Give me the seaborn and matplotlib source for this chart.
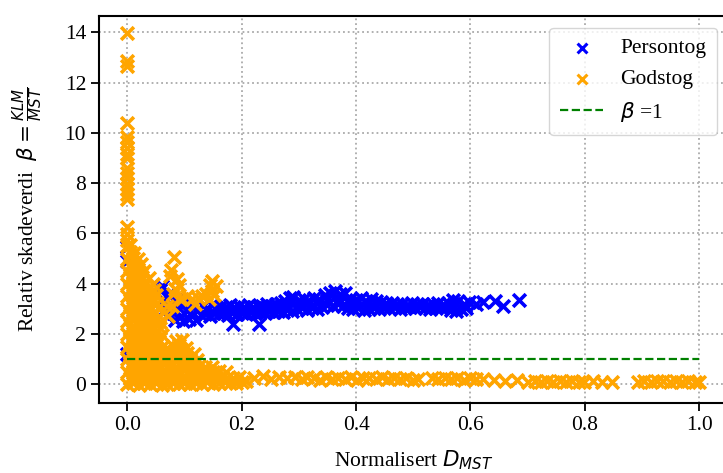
import matplotlib
matplotlib.use("Agg")
import matplotlib.pyplot as plt
import seaborn as sns

# ---------------- data ----------------
# Persontog (blue)
pers_col_x = [0.0, 0.0, 0.0]
pers_col_y = [5.45, 4.9, 1.2]

pers_blob_x = [0.058, 0.062, 0.066, 0.070, 0.072, 0.076, 0.080, 0.083, 0.086, 0.090,
               0.094, 0.098, 0.100, 0.104, 0.108, 0.112, 0.116, 0.120, 0.124, 0.060]
pers_blob_y = [3.75, 3.40, 3.00, 2.70, 3.55, 3.20, 2.85, 2.55, 3.35, 3.05,
               2.70, 2.50, 3.20, 2.90, 2.60, 3.10, 2.80, 2.55, 3.00, 3.90]

pers_lo1_x = [0.128, 0.136, 0.144, 0.152, 0.160, 0.168, 0.176, 0.184, 0.192, 0.200, 0.208,
              0.216, 0.224, 0.232, 0.240, 0.248, 0.256, 0.264, 0.272, 0.280, 0.288]
pers_lo1_y = [2.75, 2.80, 2.72, 2.85, 2.78, 2.82, 2.76, 2.88, 2.80, 2.84, 2.78,
              2.86, 2.82, 2.88, 2.84, 2.90, 2.86, 2.92, 2.88, 2.95, 2.92]
pers_hi1_x = [0.132, 0.140, 0.148, 0.156, 0.164, 0.172, 0.180, 0.188, 0.196, 0.204, 0.212,
              0.220, 0.228, 0.236, 0.244, 0.252, 0.260, 0.268, 0.276, 0.284, 0.290]
pers_hi1_y = [3.10, 3.05, 3.15, 3.02, 3.12, 3.06, 3.14, 3.04, 3.10, 3.08, 3.16,
              3.06, 3.12, 3.10, 3.18, 3.12, 3.20, 3.22, 3.30, 3.42, 3.48]

pers_lo2_x = [0.296, 0.305, 0.314, 0.323, 0.332, 0.341, 0.350, 0.359, 0.368, 0.377, 0.386, 0.395,
              0.404, 0.413, 0.422, 0.431, 0.440, 0.449, 0.458, 0.467, 0.476, 0.485, 0.494, 0.503,
              0.512, 0.521, 0.530, 0.539, 0.548, 0.557, 0.566, 0.575, 0.584, 0.593]
pers_lo2_y = [2.98, 3.02, 2.96, 3.05, 3.00, 3.08, 3.15, 3.12, 3.18, 3.10, 3.05, 2.98,
              3.02, 2.96, 3.00, 3.04, 2.98, 3.05, 3.02, 3.06, 3.00, 3.04, 3.08, 3.02,
              3.06, 3.04, 3.00, 3.05, 3.02, 3.08, 2.95, 2.92, 3.00, 3.05]
pers_hi2_x = [0.300, 0.309, 0.318, 0.327, 0.336, 0.345, 0.354, 0.363, 0.372, 0.381, 0.390, 0.399,
              0.408, 0.417, 0.426, 0.435, 0.444, 0.453, 0.462, 0.471, 0.480, 0.489, 0.498, 0.507,
              0.516, 0.525, 0.534, 0.543, 0.552, 0.561, 0.570, 0.579, 0.588, 0.597]
pers_hi2_y = [3.35, 3.40, 3.30, 3.42, 3.38, 3.55, 3.62, 3.70, 3.58, 3.65, 3.40, 3.35,
              3.42, 3.32, 3.38, 3.30, 3.28, 3.22, 3.25, 3.18, 3.20, 3.16, 3.22, 3.18,
              3.20, 3.15, 3.18, 3.22, 3.16, 3.25, 3.35, 3.30, 3.20, 3.28]
pers_mid_x = [0.140, 0.160, 0.180, 0.200, 0.220, 0.240, 0.260, 0.280, 0.310, 0.330, 0.350,
              0.370, 0.390, 0.410, 0.430, 0.450, 0.470, 0.490, 0.510, 0.530, 0.550, 0.570, 0.590]
pers_mid_y = [2.95, 2.98, 2.92, 3.00, 2.96, 3.02, 3.05, 3.15, 3.18, 3.22, 3.35,
              3.40, 3.25, 3.20, 3.15, 3.12, 3.10, 3.12, 3.10, 3.12, 3.10, 3.15, 3.12]

pers_tail_x = [0.610, 0.622, 0.643, 0.656, 0.684, 0.185, 0.230]
pers_tail_y = [3.20, 3.26, 3.32, 3.10, 3.36, 2.40, 2.40]

# Godstog (orange)
gods_col_x = [0.0, 0.0, 0.0, 0.0, 0.0, 0.0, 0.0, 0.0, 0.0, 0.0, 0.0, 0.0, 0.0, 0.0, 0.0, 0.0, 0.0, 0.0]
gods_col_y = [13.96, 12.85, 12.65, 10.4, 9.85, 9.62, 9.4, 9.18, 9.02, 8.62, 8.42, 8.2,
              7.98, 7.78, 7.58, 7.38, 6.24, 5.98]

gods_tri_x = [
    0.000, 0.010, 0.020, 0.030, 0.040, 0.050, 0.060, 0.070, 0.080, 0.090, 0.100, 0.110, 0.120, 0.130, 0.140, 0.150, 0.160, 0.170, 0.180, 0.190, 0.200, 0.208,
    0.005, 0.015, 0.025, 0.035, 0.045, 0.055, 0.065, 0.075, 0.085, 0.095, 0.105, 0.115, 0.125, 0.135, 0.145, 0.155, 0.165, 0.175, 0.185, 0.195,
    0.000, 0.010, 0.020, 0.030, 0.040, 0.050, 0.060, 0.070, 0.080, 0.090, 0.100, 0.110, 0.120, 0.130, 0.140, 0.150, 0.160, 0.172,
    0.005, 0.015, 0.025, 0.035, 0.045, 0.055, 0.065, 0.075, 0.085, 0.095, 0.105, 0.115, 0.125, 0.135, 0.148,
    0.000, 0.010, 0.020, 0.030, 0.040, 0.050, 0.060, 0.070, 0.080, 0.090, 0.100, 0.110, 0.122,
    0.005, 0.015, 0.025, 0.035, 0.045, 0.055, 0.065, 0.075, 0.085, 0.095, 0.105, 0.117,
    0.000, 0.010, 0.020, 0.030, 0.040, 0.050, 0.060, 0.070, 0.080, 0.090, 0.102,
    0.005, 0.015, 0.025, 0.035, 0.045, 0.055, 0.085, 0.095,
    0.000, 0.010, 0.020, 0.030, 0.040, 0.050, 0.060,
    0.005, 0.015, 0.025, 0.035, 0.045, 0.058,
    0.000, 0.010, 0.020, 0.030, 0.040, 0.050, 0.058,
    0.005, 0.015, 0.025, 0.035, 0.045, 0.056,
    0.000, 0.010, 0.020, 0.030, 0.040, 0.054,
    0.005, 0.015, 0.025, 0.035, 0.045, 0.052,
    0.000, 0.010, 0.020, 0.030, 0.040, 0.050,
    0.005, 0.015, 0.025, 0.035, 0.047,
    0.000, 0.010, 0.020, 0.030, 0.045,
    0.005, 0.015, 0.025, 0.038,
    0.000, 0.010, 0.020, 0.030,
    0.005, 0.015, 0.024,
    0.000, 0.010, 0.018,
    0.004, 0.012,
    0.000, 0.005,
    0.000,
]
gods_tri_y = [
    0.00, 0.04, -0.02, 0.05, 0.01, 0.06, -0.01, 0.03, 0.07, 0.02, 0.05, 0.00, 0.06, 0.03, 0.08, 0.02, 0.05, 0.09, 0.04, 0.07, 0.10, 0.12,
    0.26, 0.22, 0.28, 0.24, 0.27, 0.23, 0.29, 0.25, 0.21, 0.27, 0.24, 0.30, 0.26, 0.22, 0.28, 0.25, 0.31, 0.27, 0.24, 0.30,
    0.50, 0.54, 0.47, 0.52, 0.49, 0.55, 0.51, 0.48, 0.53, 0.50, 0.56, 0.49, 0.52, 0.47, 0.54, 0.50, 0.52, 0.48,
    0.75, 0.72, 0.78, 0.74, 0.77, 0.73, 0.79, 0.75, 0.71, 0.77, 0.74, 0.78, 0.72, 0.70, 0.68,
    1.00, 1.04, 0.97, 1.02, 0.99, 1.05, 1.01, 0.98, 1.03, 1.00, 1.06, 0.99, 0.95,
    1.25, 1.22, 1.28, 1.24, 1.27, 1.23, 1.29, 1.30, 1.26, 1.28, 1.24, 1.20,
    1.50, 1.54, 1.47, 1.52, 1.49, 1.55, 1.48, 1.45, 1.52, 1.56, 1.45,
    1.75, 1.72, 1.78, 1.74, 1.77, 1.73, 1.72, 1.78,
    2.00, 2.04, 1.97, 2.02, 1.99, 2.05, 1.98,
    2.25, 2.22, 2.28, 2.24, 2.27, 2.23,
    2.50, 2.54, 2.47, 2.52, 2.49, 2.55, 2.48,
    2.75, 2.72, 2.78, 2.74, 2.77, 2.73,
    3.00, 3.04, 2.97, 3.02, 2.99, 3.05,
    3.25, 3.22, 3.28, 3.24, 3.27, 3.23,
    3.50, 3.54, 3.47, 3.52, 3.49, 3.55,
    3.75, 3.72, 3.78, 3.74, 3.77,
    4.00, 4.04, 3.97, 4.02, 3.99,
    4.25, 4.22, 4.28, 4.24,
    4.50, 4.54, 4.47, 4.52,
    4.75, 4.72, 4.78,
    5.00, 5.04, 4.97,
    5.25, 5.22,
    5.50, 5.54,
    5.75,
]

gods_out_x = [0.082, 0.077, 0.087, 0.084, 0.096, 0.113, 0.130, 0.148, 0.148, 0.142, 0.069, 0.078,
              0.072, 0.093, 0.075, 0.090, 0.080, 0.105, 0.118, 0.123, 0.138, 0.152, 0.155, 0.145]
gods_out_y = [5.08, 4.53, 4.18, 3.78, 3.38, 3.38, 3.51, 4.11, 3.71, 3.38, 3.11, 3.10,
              2.70, 3.38, 4.30, 3.95, 3.60, 3.50, 3.20, 3.45, 3.60, 3.55, 3.90, 3.95]

gods_strip_x = [0.222, 0.238, 0.252, 0.266, 0.280, 0.293,
                0.305, 0.315, 0.326, 0.337, 0.348, 0.358, 0.369, 0.380, 0.391, 0.402,
                0.412, 0.423, 0.434, 0.445, 0.456, 0.466, 0.477, 0.488, 0.499, 0.508,
                0.533, 0.544, 0.555, 0.566, 0.577, 0.588, 0.599, 0.610, 0.622,
                0.641, 0.661, 0.681, 0.700,
                0.712, 0.723, 0.734, 0.745, 0.756, 0.767, 0.778, 0.789, 0.798,
                0.815, 0.830, 0.848,
                0.893, 0.904, 0.915, 0.926, 0.937, 0.948, 0.959, 0.970, 0.981, 0.992, 1.000]
gods_strip_y = [0.25, 0.32, 0.22, 0.30, 0.27, 0.31,
                0.20, 0.28, 0.24, 0.18, 0.29, 0.23, 0.26, 0.21, 0.30, 0.19,
                0.27, 0.24, 0.22, 0.28, 0.20, 0.25, 0.23, 0.27, 0.18, 0.22,
                0.24, 0.20, 0.27, 0.22, 0.26, 0.19, 0.25, 0.21, 0.23,
                0.16, 0.12, 0.17, 0.11,
                0.13, 0.09, 0.15, 0.10, 0.12, 0.08, 0.14, 0.11, 0.09,
                0.12, 0.08, 0.10,
                0.10, 0.14, 0.09, 0.12, 0.15, 0.08, 0.13, 0.10, 0.14, 0.11, 0.09]

beta_x = [0.0, 1.0]
beta_y = [1.0, 1.0]

x_ticks = [0.0, 0.2, 0.4, 0.6, 0.8, 1.0]
y_ticks = [0, 2, 4, 6, 8, 10, 12, 14]

pers_x = pers_col_x + pers_blob_x + pers_lo1_x + pers_hi1_x + pers_lo2_x + pers_hi2_x + pers_mid_x + pers_tail_x
pers_y = pers_col_y + pers_blob_y + pers_lo1_y + pers_hi1_y + pers_lo2_y + pers_hi2_y + pers_mid_y + pers_tail_y
gods_x = gods_col_x + gods_tri_x + gods_out_x + gods_strip_x
gods_y = gods_col_y + gods_tri_y + gods_out_y + gods_strip_y

# ---------------- style ----------------
sns.set_style("ticks")
plt.rcParams["font.family"] = ["Liberation Serif", "DejaVu Sans"]
plt.rcParams["mathtext.fontset"] = "dejavusans"
plt.rcParams["text.color"] = "black"
plt.rcParams["axes.labelcolor"] = "black"
plt.rcParams["xtick.color"] = "black"
plt.rcParams["ytick.color"] = "black"
FS = 15.5

fig = plt.figure(figsize=(7.23, 4.73), dpi=100)
ax = fig.add_axes([0.1373, 0.1486, 0.871, 0.8182])

sns.scatterplot(x=pers_x, y=pers_y, marker="x", color="blue", s=85, linewidth=2.6,
                label="Persontog", ax=ax, zorder=3)
sns.scatterplot(x=gods_x, y=gods_y, marker="x", color="orange", s=85, linewidth=2.6,
                label="Godstog", ax=ax, zorder=4)
sns.lineplot(x=beta_x, y=beta_y, color="green", linestyle="--", linewidth=1.6,
             label=r"$\beta$ =1", ax=ax, zorder=5)

ax.set_xlim(-0.049, 1.052)
ax.set_ylim(-0.73, 14.66)
ax.set_xticks(x_ticks)
ax.set_xticklabels([f"{v:.1f}" for v in x_ticks])
ax.set_yticks(y_ticks)

ax.set_axisbelow(True)
ax.grid(True, linestyle=":", color="#aaaaaa", linewidth=1.3)
for s in ax.spines.values():
    s.set_linewidth(1.5)
    s.set_color("black")
ax.tick_params(direction="out", length=6, width=1.3, labelsize=FS, colors="black")

ax.set_xlabel(r"Normalisert $D_{MST}$", fontsize=FS, labelpad=10)
ax.set_ylabel(r"Relativ skadeverdi  $\beta = \frac{KLM}{MST}$", fontsize=FS, labelpad=14)

leg = ax.legend(loc="upper right", fontsize=FS, frameon=True, fancybox=True,
                edgecolor="#cccccc", framealpha=0.8, borderaxespad=0.55, borderpad=0.5)
for h in leg.legend_handles[:2]:
    h.set_linewidth(2.2)
    h.set_sizes([50])

fig.savefig("out.png", dpi=100)
